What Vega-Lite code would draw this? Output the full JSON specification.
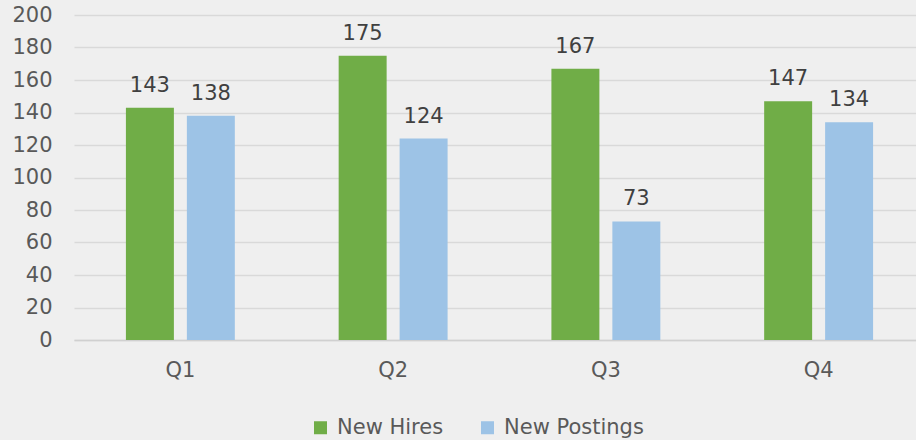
{
  "$schema": "https://vega.github.io/schema/vega-lite/v6.json",
  "width": 851,
  "height": 325,
  "autosize": {"type": "none"},
  "padding": {"left": 74, "top": 15, "right": 0, "bottom": 100},
  "background": "#efefef",
  "config": {
    "font": "DejaVu Sans",
    "view": {"stroke": null}
  },
  "data": {
    "values": [
      {"quarter": "Q1", "series": "New Hires", "value": 143},
      {"quarter": "Q1", "series": "New Postings", "value": 138},
      {"quarter": "Q2", "series": "New Hires", "value": 175},
      {"quarter": "Q2", "series": "New Postings", "value": 124},
      {"quarter": "Q3", "series": "New Hires", "value": 167},
      {"quarter": "Q3", "series": "New Postings", "value": 73},
      {"quarter": "Q4", "series": "New Hires", "value": 147},
      {"quarter": "Q4", "series": "New Postings", "value": 134}
    ]
  },
  "encoding": {
    "x": {
      "field": "quarter",
      "type": "nominal",
      "scale": {"paddingInner": 0.488, "paddingOuter": 0.244},
      "axis": {
        "title": null,
        "labelAngle": 0,
        "labelFontSize": 21,
        "labelColor": "#595959",
        "labelPadding": 19,
        "ticks": false,
        "domain": true,
        "domainColor": "#d0d0d0",
        "domainWidth": 1.5
      }
    },
    "xOffset": {
      "field": "series",
      "type": "nominal",
      "sort": ["New Hires", "New Postings"],
      "scale": {"paddingInner": 0.213, "paddingOuter": 0}
    },
    "y": {
      "field": "value",
      "type": "quantitative",
      "scale": {"domain": [0, 200], "nice": false},
      "axis": {
        "title": null,
        "values": [0, 20, 40, 60, 80, 100, 120, 140, 160, 180, 200],
        "labelFontSize": 21,
        "labelColor": "#595959",
        "labelPadding": 22,
        "ticks": false,
        "domain": false,
        "gridColor": "#d9d9d9",
        "gridWidth": 1.5
      }
    }
  },
  "layer": [
    {
      "mark": {"type": "bar"},
      "encoding": {
        "color": {
          "field": "series",
          "type": "nominal",
          "sort": ["New Hires", "New Postings"],
          "scale": {"domain": ["New Hires", "New Postings"], "range": ["#70AD47", "#9DC3E6"]},
          "legend": {
            "title": null,
            "orient": "none",
            "direction": "horizontal",
            "legendX": 236,
            "legendY": 402,
            "symbolType": "square",
            "symbolSize": 169,
            "symbolStrokeWidth": 0,
            "labelFontSize": 21,
            "labelColor": "#595959",
            "labelOffset": 6,
            "columnPadding": 33
          }
        }
      }
    },
    {
      "mark": {"type": "text", "baseline": "alphabetic", "dy": -16, "fontSize": 21, "color": "#404040"},
      "encoding": {
        "text": {"field": "value", "type": "quantitative"}
      }
    }
  ]
}
